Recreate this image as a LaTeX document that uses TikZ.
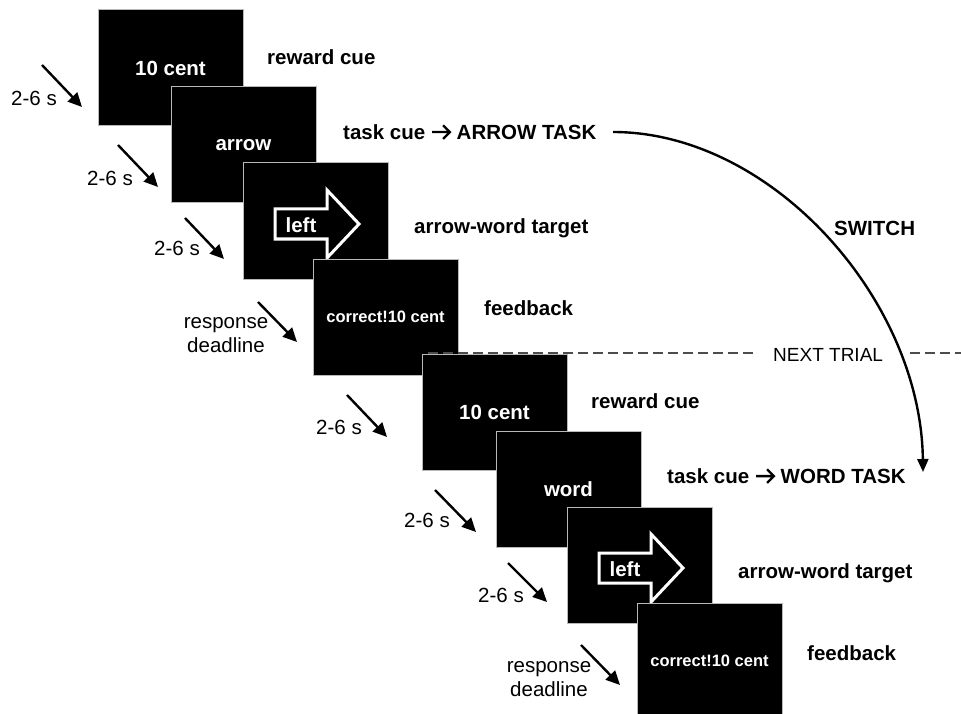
\documentclass[tikz,border=0pt]{standalone}
\usepackage{fontspec}
\setmainfont{Liberation Sans}
\usetikzlibrary{arrows.meta,calc}
\newcommand{\chevarrow}{\tikz[baseline=0pt,x=1pt,y=1pt]{\draw[line width=2.3pt,line cap=butt,line join=miter] (0,7.2) -- (17,7.2) (11,14) -- (17.8,7.2) -- (11,0.4);}}
\begin{document}
\begin{tikzpicture}[x=1pt,y=-1pt,
  screen/.style={fill=black,draw=gray!55,line width=1pt,minimum width=145pt,minimum height=116pt,
    inner sep=0pt,outer sep=0pt,text=white,font=\fontsize{20.5}{24}\selectfont\bfseries},
  fbtext/.style={font=\fontsize{16.5}{20}\selectfont\bfseries},
  lbl/.style={anchor=base west,inner sep=0pt,font=\fontsize{20.5}{24}\selectfont\bfseries},
  tlbl/.style={anchor=base,inner sep=0pt,font=\fontsize{20.5}{24}\selectfont},
  rlbl/.style={align=center,inner sep=0pt,font=\fontsize{20.5}{24}\selectfont},
  tarrow/.style={line width=2.4pt,-{Triangle[length=14pt,width=13pt]}},
  switcharrow/.style={line width=2.4pt,-{Triangle[length=13pt,width=11pt]}},
  bigarrow/.style={fill=black,draw=white,line width=3pt,line join=miter},
  arrowtext/.style={text=white,inner sep=0pt,font=\fontsize{20.5}{24}\selectfont\bfseries},
  trialline/.style={draw=black!70,line width=1.5pt,dash pattern=on 10pt off 5pt},
  nexttext/.style={anchor=base west,inner sep=0pt,font=\fontsize{19}{23}\selectfont}
]
\path[fill=white,use as bounding box] (0,0) rectangle (961,714);

% ---- screens ----
\node[screen] (s1) at (170.5,68) {10 cent};
\node[screen] (s2) at (243.5,145) {arrow};
\node[screen] (s3) at (315.5,221) {};
\begin{scope}[shift={(s3.north west)}]
  \draw[bigarrow] (32,46) -- (84,46) -- (84,27) -- (116,61) -- (84,95) -- (84,76) -- (32,76) -- cycle;
  \node[arrowtext] (w3) at (58,62) {left};
\end{scope}
\node[screen,fbtext] (s4) at (385.5,317) {correct!10 cent};
\node[screen] (s5) at (494.5,412) {10 cent};
\node[screen] (s6) at (568.5,489) {word};
\node[screen] (s7) at (639.5,565) {};
\begin{scope}[shift={(s7.north west)}]
  \draw[bigarrow] (32,46) -- (84,46) -- (84,27) -- (116,61) -- (84,95) -- (84,76) -- (32,76) -- cycle;
  \node[arrowtext] (w7) at (58,62) {left};
\end{scope}
\node[screen,fbtext] (s8) at (709.5,661) {correct!10 cent};

% ---- right-hand labels ----
\node[lbl] (l1) at (267,64.3) {reward cue};
\node[lbl] (l2) at (343,139.3) {task cue \chevarrow\ ARROW TASK};
\node[lbl] (l3) at (414,233.3) {arrow-word target};
\node[lbl] (l4) at (484,315.3) {feedback};
\node[lbl] (l5) at (591,408.3) {reward cue};
\node[lbl] (l6) at (667,483.3) {task cue \chevarrow\ WORD TASK};
\node[lbl] (l7) at (738,578.3) {arrow-word target};
\node[lbl] (l8) at (807,660.3) {feedback};
\node[lbl] (sw) at (834,235.3) {SWITCH};

% ---- next trial ----
\node[nexttext] (nt) at (773,361) {NEXT TRIAL};
\coordinate (d1a) at (428,353);
\coordinate (d1b) at (757,353);
\coordinate (d2a) at (910,353);
\coordinate (d2b) at (961,353);
\draw[trialline] (d1a) -- (d1b);
\draw[trialline] (d2a) -- (d2b);

% ---- switch arrow ----
\coordinate (swA) at (613,132);
\coordinate (swB) at (923,472);
\draw[switcharrow] (swA) .. controls (772,132) and (921,300) .. (swB);

% ---- timing labels and arrows ----
\node[tlbl] (t1) at (34,105.3) {2-6 s};
\node[tlbl] (t2) at (110,185.3) {2-6 s};
\node[tlbl] (t3) at (177,255.3) {2-6 s};
\node[rlbl] (r1) at (226,335) {response\\deadline};
\node[tlbl] (t5) at (339,434.3) {2-6 s};
\node[tlbl] (t6) at (427,527.3) {2-6 s};
\node[tlbl] (t7) at (501,602.3) {2-6 s};
\node[rlbl] (r2) at (549,679) {response\\deadline};

\coordinate (a1s) at (42,65);   \coordinate (a1e) at (82,107);
\coordinate (a2s) at (118,145); \coordinate (a2e) at (158,187);
\coordinate (a3s) at (185,218); \coordinate (a3e) at (224,259);
\coordinate (a4s) at (258,302); \coordinate (a4e) at (297,342);
\coordinate (a5s) at (347,395); \coordinate (a5e) at (387,437);
\coordinate (a6s) at (435,490); \coordinate (a6e) at (476,532);
\coordinate (a7s) at (508,563); \coordinate (a7e) at (547,602);
\coordinate (a8s) at (581,645); \coordinate (a8e) at (620,685);
\foreach \i in {1,...,8} { \draw[tarrow] (a\i s) -- (a\i e); }
\end{tikzpicture}
\end{document}
